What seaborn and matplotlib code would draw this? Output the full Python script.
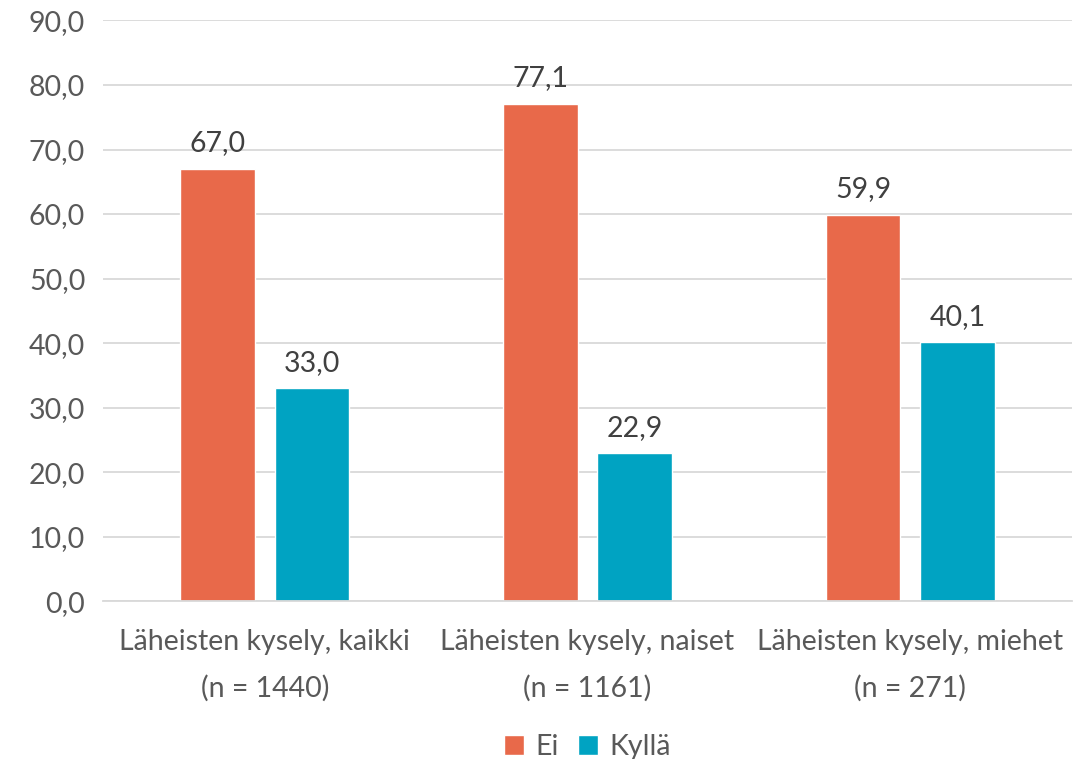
import pandas as pd
import matplotlib.pyplot as plt
import seaborn as sns

# Data
categories = ['Läheisten kysely, kaikki\n(n = 1440)',
              'Läheisten kysely, naiset\n(n = 1161)',
              'Läheisten kysely, miehet\n(n = 271)']
ei_values = [67.0, 77.1, 59.9]
kylla_values = [33.0, 22.9, 40.1]
series_names = ['Ei', 'Kyllä']
colors = ['#E8694A', '#00A3C2']

df = pd.DataFrame({
    'Ryhmä': categories * 2,
    'Vastaus': [series_names[0]] * 3 + [series_names[1]] * 3,
    'Arvo': ei_values + kylla_values,
})

sns.set_style('white')
plt.rcParams['font.family'] = ['Lato', 'DejaVu Sans']
text_color = '#595959'
fs = 20.5

fig = plt.figure(figsize=(10.76, 7.59), dpi=100)
ax = fig.add_axes([0.096, 0.208, 0.9, 0.765])

sns.barplot(data=df, x='Ryhmä', y='Arvo', hue='Vastaus', palette=colors,
            width=0.585, gap=0.21, ax=ax, saturation=1, legend=True)

for cont in ax.containers:
    ax.bar_label(cont, labels=[f'{v:.1f}'.replace('.', ',') for v in cont.datavalues],
                 padding=9, fontsize=fs, color='#404040')

ax.set_ylim(0, 90)
ax.set_xlim(-0.5, 2.5)
ax.set_yticks(range(0, 91, 10))
ax.set_yticklabels([f'{v:.1f}'.replace('.', ',') for v in range(0, 91, 10)],
                   fontsize=fs, color=text_color)
ax.tick_params(axis='x', labelsize=fs, labelcolor=text_color, pad=20, length=0)
for t in ax.get_xticklabels():
    t.set_linespacing(1.9)
ax.tick_params(axis='y', length=0, pad=13)
ax.yaxis.grid(True, color='#D9D9D9', linewidth=1.3)
ax.set_axisbelow(True)
ax.set_xlabel('')
ax.set_ylabel('')
for s in ['top', 'right', 'left']:
    ax.spines[s].set_visible(False)
ax.spines['bottom'].set_color('#D9D9D9')
ax.spines['bottom'].set_linewidth(1.3)

leg = ax.legend(loc='lower center', bbox_to_anchor=(0.5, -0.318), ncol=2,
                frameon=False, fontsize=fs, handlelength=0.7, handleheight=0.7,
                columnspacing=0.7, handletextpad=0.4)
for t in leg.get_texts():
    t.set_color(text_color)

fig.savefig('out.png', dpi=100)
